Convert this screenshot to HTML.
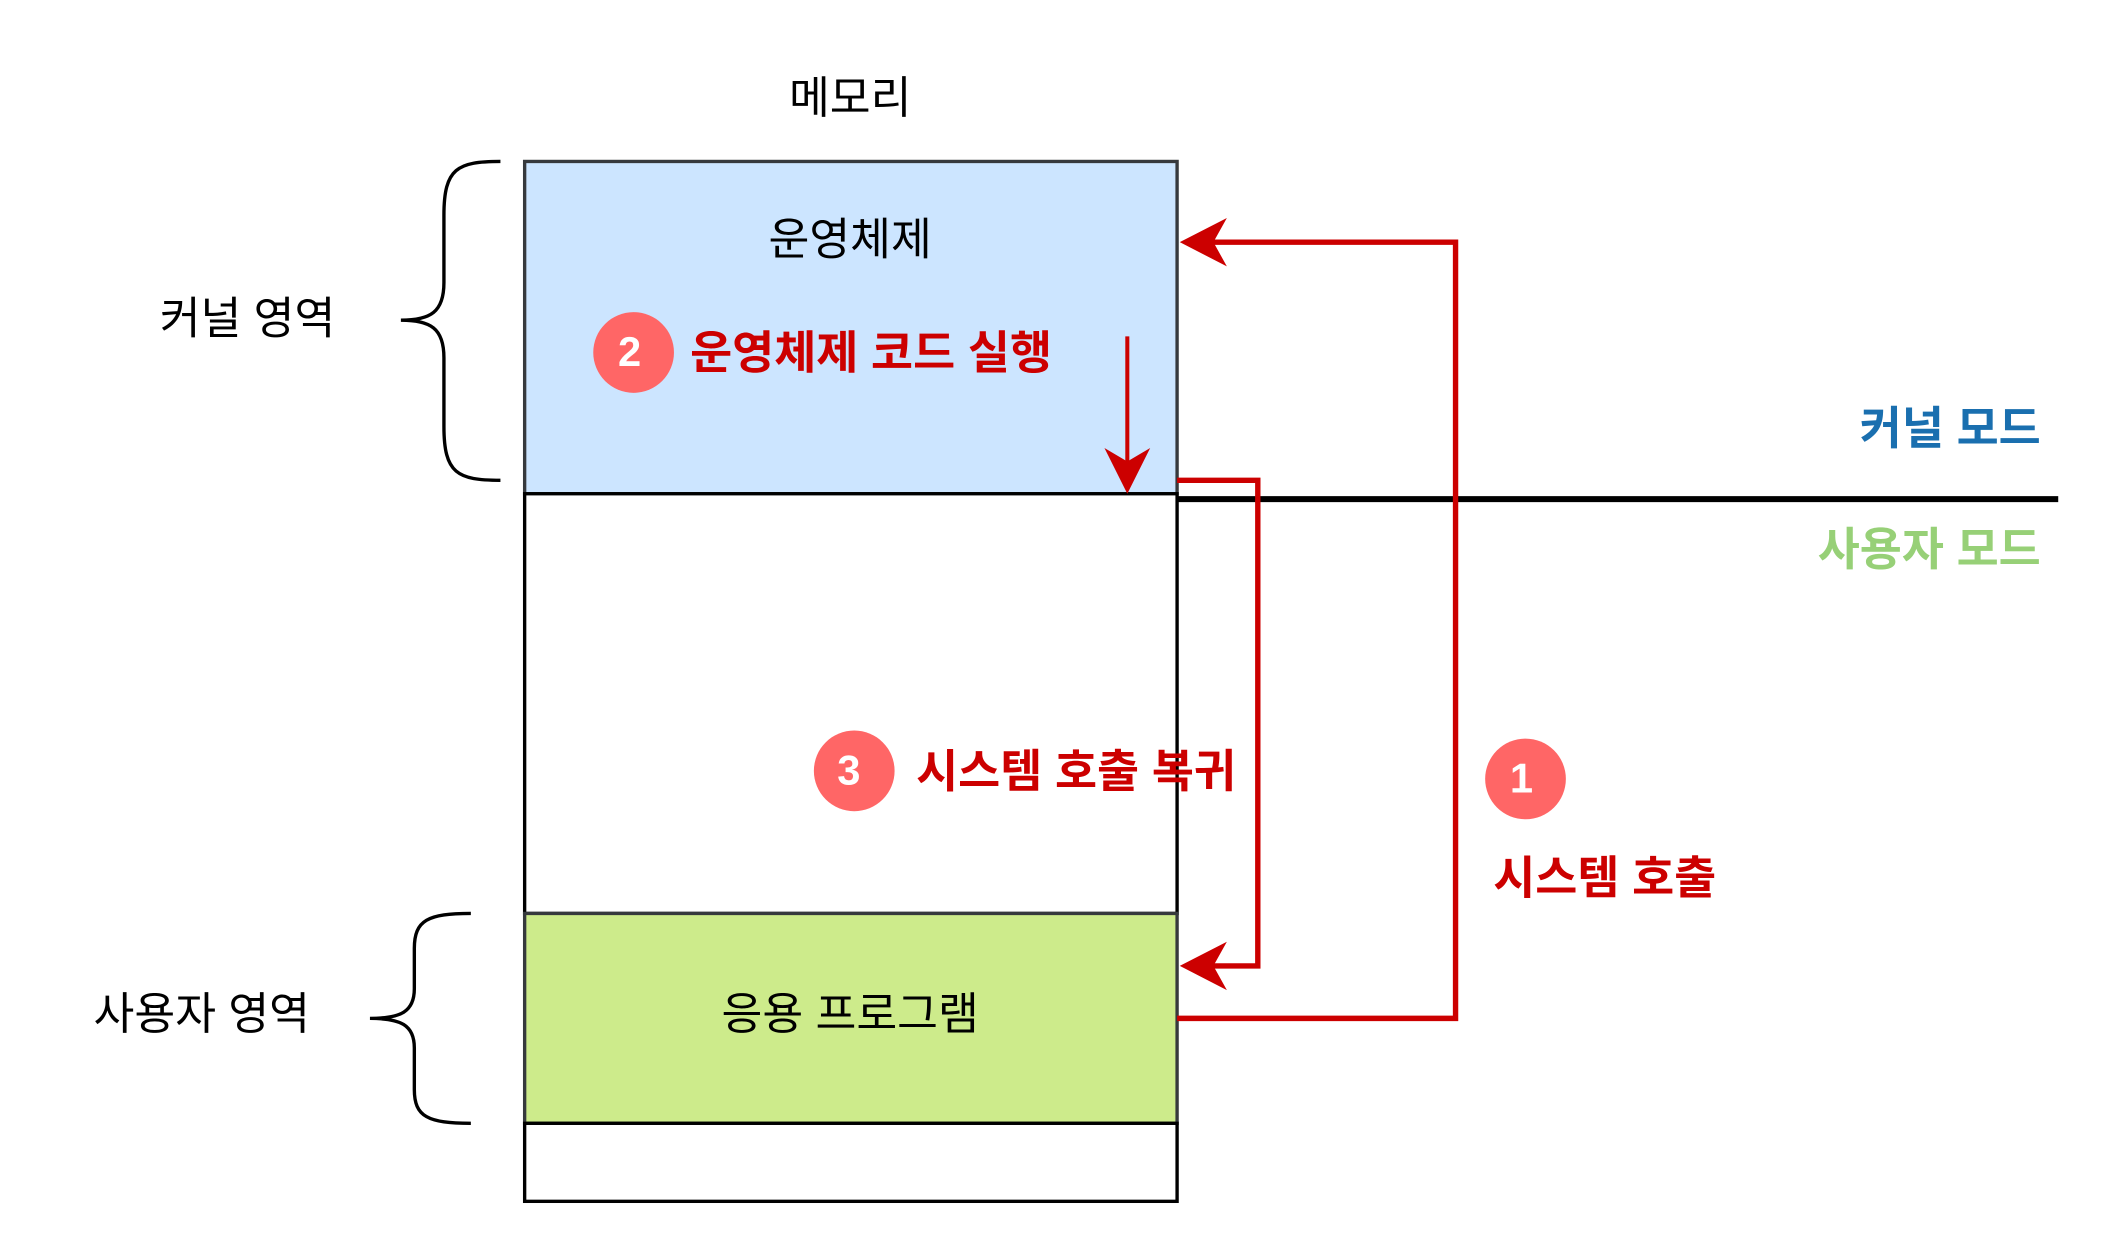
<!DOCTYPE html>
<html><head><meta charset="utf-8"><style>
html,body{margin:0;padding:0;background:#fff;}
svg{display:block}
text{font-family:"Liberation Sans","Noto Sans CJK KR",sans-serif;}
</style></head><body>
<svg width="2108" height="1244" viewBox="0 0 1567 924.7" xmlns="http://www.w3.org/2000/svg">
<text x="632" y="84" font-size="33" text-anchor="middle" fill="#000">메모리</text>
<rect x="390" y="120" width="485" height="247" fill="#cce5ff" stroke="#36393d" stroke-width="2.5"/>
<rect x="390" y="367" width="485" height="312" fill="#fff" stroke="#000" stroke-width="2.5"/>
<rect x="390" y="679" width="485" height="156" fill="#cdeb8b" stroke="#36393d" stroke-width="2.5"/>
<rect x="390" y="835" width="485" height="58" fill="#fff" stroke="#000" stroke-width="2.5"/>
<text x="632" y="189" font-size="33" text-anchor="middle">운영체제</text>
<text x="632" y="765" font-size="33" text-anchor="middle">응용 프로그램</text>
<line x1="875" y1="371" x2="1530" y2="371" stroke="#000" stroke-width="4.5"/>
<text x="1517" y="330" font-size="34" font-weight="bold" text-anchor="end" fill="#1a6faf">커널 모드</text>
<text x="1517" y="420" font-size="34" font-weight="bold" text-anchor="end" fill="#97d077">사용자 모드</text>
<polyline points="875,757 1082,757 1082,180 895,180" fill="none" stroke="#cc0000" stroke-width="4"/>
<polygon points="877,180 912,162 902,180 912,198" fill="#cc0000"/>
<polyline points="875,357 935,357 935,718 895,718" fill="none" stroke="#cc0000" stroke-width="4"/>
<polygon points="877,718 912,700 902,718 912,736" fill="#cc0000"/>
<line x1="838" y1="250" x2="838" y2="350" stroke="#cc0000" stroke-width="3"/>
<polygon points="838,367 821,333 838,343 855,333" fill="#cc0000"/>
<circle cx="471" cy="262" r="30" fill="#ff6666"/>
<text x="468" y="272" font-size="31" font-weight="bold" fill="#fff" text-anchor="middle">2</text>
<text x="513" y="274" font-size="34" font-weight="bold" fill="#cc0000">운영체제 코드 실행</text>
<circle cx="635" cy="573" r="30" fill="#ff6666"/>
<text x="631" y="583" font-size="31" font-weight="bold" fill="#fff" text-anchor="middle">3</text>
<text x="681" y="585" font-size="34" font-weight="bold" fill="#cc0000">시스템 호출 복귀</text>
<circle cx="1134" cy="579" r="30" fill="#ff6666"/>
<text x="1131" y="589" font-size="31" font-weight="bold" fill="#fff" text-anchor="middle">1</text>
<text x="1110" y="664" font-size="34" font-weight="bold" fill="#cc0000">시스템 호출</text>
<path d="M372,120 C340,120 330,125 330,160 L330,210 C330,232 320,238 298,238 C320,238 330,244 330,266 L330,317 C330,352 340,357 372,357" fill="none" stroke="#000" stroke-width="2.5"/>
<text x="184" y="248" font-size="33" text-anchor="middle">커널 영역</text>
<path d="M350,679 C318,679 308,684 308,705 L308,735 C308,752 298,757 275,757 C298,757 308,762 308,779 L308,810 C308,830 318,835 350,835" fill="none" stroke="#000" stroke-width="2.5"/>
<text x="150" y="765" font-size="33" text-anchor="middle">사용자 영역</text>
</svg>
</body></html>
